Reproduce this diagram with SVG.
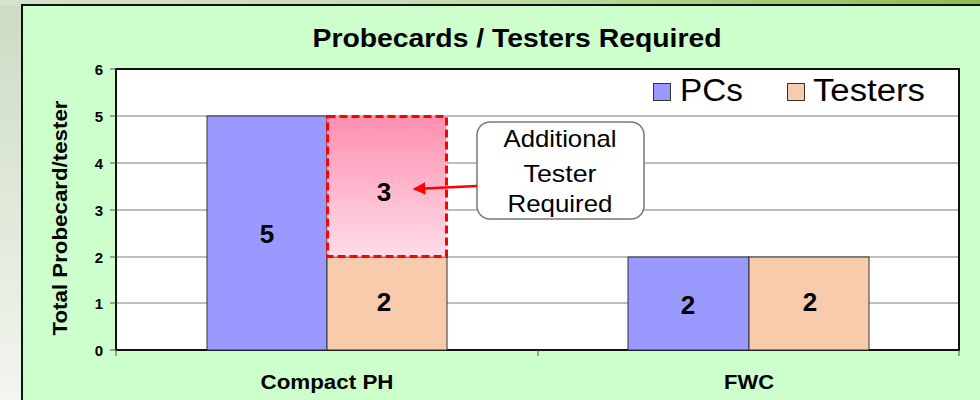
<svg xmlns="http://www.w3.org/2000/svg" width="980" height="400" viewBox="0 0 980 400">
<defs>
<linearGradient id="topbg" x1="0" y1="0" x2="1" y2="0">
<stop offset="0" stop-color="#d6e2cc"/><stop offset="0.5" stop-color="#c4dcac"/><stop offset="1" stop-color="#8cbc4c"/>
</linearGradient>
<linearGradient id="leftbg" x1="0" y1="0" x2="0" y2="1">
<stop offset="0" stop-color="#cddbc2"/><stop offset="1" stop-color="#f2f5f0"/>
</linearGradient>
<linearGradient id="pink" x1="0" y1="0" x2="0" y2="1">
<stop offset="0" stop-color="#ff8fb0"/><stop offset="1" stop-color="#ffdde8"/>
</linearGradient>
<marker id="arr" viewBox="0 0 10 10" refX="9" refY="5" markerWidth="6" markerHeight="5" orient="auto" markerUnits="strokeWidth">
<path d="M0,0 L10,5 L0,10 z" fill="#ff0000"/>
</marker>
<style>
.grid{stroke:#a8a8a8;stroke-width:1.5}
.tick{font-family:"Liberation Sans",Arial,sans-serif;font-weight:bold;font-size:15px;fill:#000;text-anchor:end}
.val{font-family:"Liberation Sans",Arial,sans-serif;font-weight:bold;font-size:26px;fill:#000;text-anchor:middle}
.cat{font-family:"Liberation Sans",Arial,sans-serif;font-weight:bold;font-size:21px;fill:#000;text-anchor:middle}
.pc{fill:#9999ff;stroke:#333;stroke-width:1}
.ts{fill:#f8cbad;stroke:#333;stroke-width:1}
.leg{font-family:"Liberation Sans",Arial,sans-serif;font-size:31px;fill:#000}
.call{font-family:"Liberation Sans",Arial,sans-serif;font-size:24px;fill:#000;text-anchor:middle}
</style>
</defs>
<rect x="0" y="0" width="980" height="400" fill="url(#leftbg)"/>
<rect x="0" y="0" width="980" height="6" fill="url(#topbg)"/>
<rect x="22" y="5" width="970" height="400" fill="#ccffcc" stroke="#111" stroke-width="2"/>
<text x="517" y="47" font-family="'Liberation Sans', Arial, sans-serif" font-weight="bold" font-size="25" text-anchor="middle" textLength="409" lengthAdjust="spacingAndGlyphs">Probecards / Testers Required</text>
<g id="plot">
<rect x="116" y="69" width="843" height="281" fill="#ffffff"/>
<line class="grid" x1="116" y1="116" x2="959" y2="116"/>
<line class="grid" x1="116" y1="163" x2="959" y2="163"/>
<line class="grid" x1="116" y1="210" x2="959" y2="210"/>
<line class="grid" x1="116" y1="257" x2="959" y2="257"/>
<line class="grid" x1="116" y1="303" x2="959" y2="303"/>
<rect x="116" y="69" width="843" height="281" fill="none" stroke="#111" stroke-width="2"/>
<g stroke="#555" stroke-width="1">
<line x1="110" y1="69" x2="116" y2="69"/><line x1="110" y1="116" x2="116" y2="116"/><line x1="110" y1="163" x2="116" y2="163"/><line x1="110" y1="210" x2="116" y2="210"/><line x1="110" y1="257" x2="116" y2="257"/><line x1="110" y1="303" x2="116" y2="303"/><line x1="110" y1="350" x2="116" y2="350"/>
<line x1="116" y1="350" x2="116" y2="356"/><line x1="538" y1="350" x2="538" y2="356"/><line x1="959" y1="350" x2="959" y2="356"/>
</g>
<text class="tick" x="103" y="75">6</text>
<text class="tick" x="103" y="122">5</text>
<text class="tick" x="103" y="169">4</text>
<text class="tick" x="103" y="216">3</text>
<text class="tick" x="103" y="263">2</text>
<text class="tick" x="103" y="309">1</text>
<text class="tick" x="103" y="356">0</text>
<text x="67" y="218" font-family="'Liberation Sans', Arial, sans-serif" font-weight="bold" font-size="20" text-anchor="middle" textLength="235" lengthAdjust="spacingAndGlyphs" transform="rotate(-90 67 218)">Total Probecard/tester</text>
</g>
<g id="compact-pc"><rect class="pc" x="207" y="116" width="120" height="234"/><text class="val" x="267" y="243">5</text></g>
<g id="compact-tester"><rect class="ts" x="327" y="257" width="120" height="93"/><text class="val" x="384" y="311">2</text></g>
<g id="compact-additional"><rect x="327.5" y="116.5" width="119" height="140" fill="url(#pink)" stroke="#ff0000" stroke-width="3" stroke-dasharray="8,4"/><text class="val" x="384" y="201">3</text></g>
<g id="fwc-pc"><rect class="pc" x="628" y="257" width="121" height="93"/><text class="val" x="688" y="314">2</text></g>
<g id="fwc-tester"><rect class="ts" x="749" y="257" width="120" height="93"/><text class="val" x="810" y="311">2</text></g>
<text class="cat" x="327" y="389" textLength="133" lengthAdjust="spacingAndGlyphs">Compact PH</text>
<text class="cat" x="749" y="389" textLength="50" lengthAdjust="spacingAndGlyphs">FWC</text>
<g id="legend">
<rect x="653.5" y="83.5" width="17" height="17" fill="#9999ff" stroke="#333" stroke-width="1"/>
<text class="leg" x="680" y="101" textLength="63" lengthAdjust="spacingAndGlyphs">PCs</text>
<rect x="787.5" y="83.5" width="17" height="17" fill="#f8cbad" stroke="#333" stroke-width="1"/>
<text class="leg" x="813" y="101" textLength="112" lengthAdjust="spacingAndGlyphs">Testers</text>
</g>
<g id="callout">
<rect x="477" y="122" width="167" height="97" rx="13" fill="#ffffff" stroke="#777" stroke-width="1.5"/>
<text class="call" x="560" y="147" textLength="113" lengthAdjust="spacingAndGlyphs">Additional</text>
<text class="call" x="560" y="182" textLength="73" lengthAdjust="spacingAndGlyphs">Tester</text>
<text class="call" x="560" y="212" textLength="105" lengthAdjust="spacingAndGlyphs">Required</text>
</g>
<g id="connectors">
<line x1="477" y1="186" x2="414" y2="189" stroke="#ff0000" stroke-width="2.5" marker-end="url(#arr)"/>
</g>
</svg>
